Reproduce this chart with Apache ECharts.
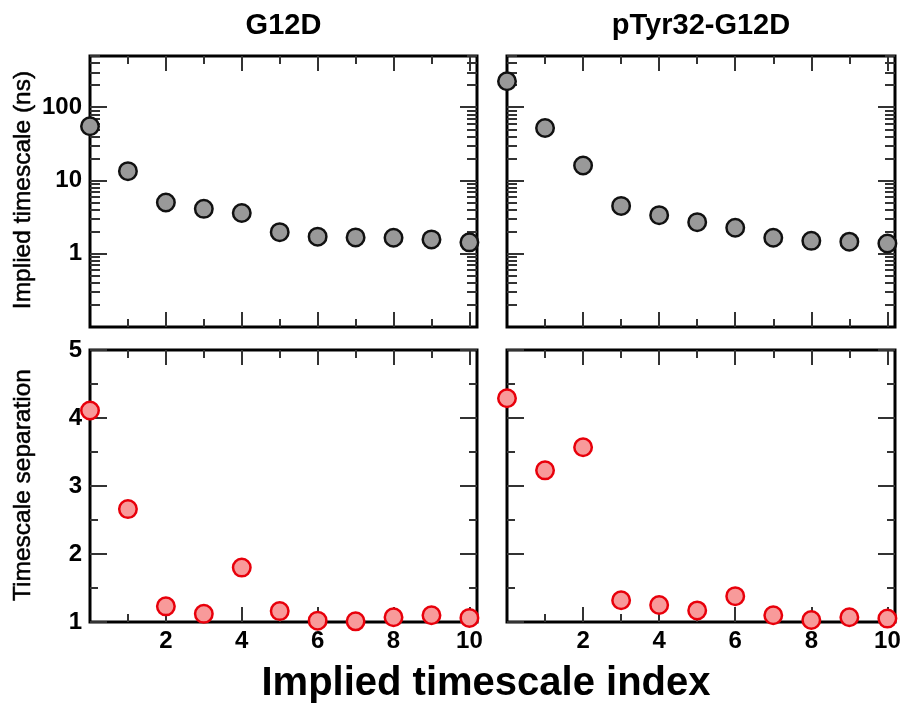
<!DOCTYPE html>
<html>
<head>
<meta charset="utf-8">
<script src="https://cdn.jsdelivr.net/npm/echarts@6/dist/echarts.min.js"></script>
<style>
html,body{margin:0;padding:0;background:#fff;}
#chart{width:902px;height:704px;}
</style>
</head>
<body>
<div id="chart"></div>
<script>
// ---- data ----
const indices = [0, 1, 2, 3, 4, 5, 6, 7, 8, 9, 10];
const g12dTimescale = [55, 13.4, 5.0, 4.1, 3.6, 1.97, 1.71, 1.67, 1.65, 1.57, 1.43];
const pTyrTimescale = [226, 52, 16.0, 4.5, 3.36, 2.70, 2.26, 1.65, 1.50, 1.46, 1.38];
const g12dSeparation = [4.11, 2.66, 1.23, 1.12, 1.80, 1.16, 1.02, 1.01, 1.07, 1.10, 1.06];
const pTyrSeparation = [4.29, 3.23, 3.57, 1.32, 1.25, 1.17, 1.38, 1.10, 1.03, 1.07, 1.05];
const panelTitles = ['G12D', 'pTyr32-G12D'];
const xMajorTicks = [2, 4, 6, 8, 10];
const xMinorTicks = [1, 3, 5, 7, 9];
const logMajorTicks = [1, 10, 100];
const logMinorTicks = [0.2, 0.3, 0.4, 0.5, 0.6, 0.7, 0.8, 0.9, 2, 3, 4, 5, 6, 7, 8, 9, 20, 30, 40, 50, 60, 70, 80, 90, 200, 300, 400, 500];
const sepMajorTicks = [1, 2, 3, 4, 5];
const sepMinorTicks = [1.5, 2.5, 3.5, 4.5];
const yTitles = ['Implied timescale (ns)', 'Timescale separation'];
const xTitle = 'Implied timescale index';

// ---- layout ----
const FONT = '"Liberation Sans", Arial, Helvetica, sans-serif';
const grids = [
  {left: 90, top: 56, width: 387, height: 271},
  {left: 507, top: 56, width: 388, height: 271},
  {left: 90, top: 350, width: 387, height: 272},
  {left: 507, top: 350, width: 388, height: 272}
];
const tickColor = '#333';
const labelStyle = {color: '#000', fontFamily: FONT, fontWeight: 'bold', fontSize: 24};

function tickAxis(base, pos, values, len, labels, labelMargin) {
  return Object.assign({}, base, {
    position: pos,
    axisLine: {show: false, onZero: false},
    splitLine: {show: false},
    axisTick: {show: true, inside: true, length: len, customValues: values,
      lineStyle: {color: tickColor, width: 2}},
    axisLabel: labels ? Object.assign({show: true, customValues: labels, margin: labelMargin}, labelStyle)
                      : {show: false}
  });
}

const xAxes = [], yAxes = [];
grids.forEach((g, gi) => {
  const bottomRow = gi >= 2;
  const leftCol = gi % 2 === 0;
  const xb = {type: 'value', gridIndex: gi, min: 0, max: 10.2};
  xAxes.push(tickAxis(xb, 'bottom', xMajorTicks, 15, bottomRow ? xMajorTicks : null, 7));
  xAxes.push(tickAxis(xb, 'bottom', xMinorTicks, 8, null));
  xAxes.push(tickAxis(xb, 'top', xMajorTicks, 15, null));
  xAxes.push(tickAxis(xb, 'top', xMinorTicks, 8, null));
  if (!bottomRow) {
    const yb = {type: 'log', logBase: 10, gridIndex: gi, min: 0.1, max: 500};
    yAxes.push(tickAxis(yb, 'left', logMajorTicks, 17, leftCol ? logMajorTicks : null, 8));
    yAxes.push(tickAxis(yb, 'left', logMinorTicks, 10, null));
    yAxes.push(tickAxis(yb, 'right', logMajorTicks, 17, null));
    yAxes.push(tickAxis(yb, 'right', logMinorTicks, 10, null));
  } else {
    const yb = {type: 'value', gridIndex: gi, min: 1, max: 5};
    yAxes.push(tickAxis(yb, 'left', sepMajorTicks, 17, leftCol ? sepMajorTicks : null, 8));
    yAxes.push(tickAxis(yb, 'left', sepMinorTicks, 8, null));
    yAxes.push(tickAxis(yb, 'right', sepMajorTicks, 17, null));
    yAxes.push(tickAxis(yb, 'right', sepMinorTicks, 8, null));
  }
});

const seriesValues = [g12dTimescale, pTyrTimescale, g12dSeparation, pTyrSeparation];
const series = seriesValues.map((vals, gi) => {
  const red = gi >= 2;
  return {
    type: 'scatter',
    xAxisIndex: gi * 4,
    yAxisIndex: gi * 4,
    symbol: 'circle',
    symbolSize: 17.5,
    clip: false,
    data: indices.map((x, i) => [x, vals[i]]),
    itemStyle: red
      ? {color: '#f89a9a', borderColor: '#e8000b', borderWidth: 2.5, opacity: 1}
      : {color: '#999999', borderColor: '#111', borderWidth: 2.5, opacity: 1},
    z: 5
  };
});

const graphic = [
  {type: 'text', x: 283.5, y: 26, style: {text: panelTitles[0], textAlign: 'center', textVerticalAlign: 'middle', font: 'bold 29px ' + FONT, fill: '#000'}},
  {type: 'text', x: 701, y: 26, style: {text: panelTitles[1], textAlign: 'center', textVerticalAlign: 'middle', font: 'bold 29px ' + FONT, fill: '#000'}},
  {type: 'text', x: 23, y: 190, rotation: Math.PI / 2, style: {text: yTitles[0], textAlign: 'center', textVerticalAlign: 'middle', font: '24.5px ' + FONT, fill: '#000', stroke: '#000', lineWidth: 0.5}},
  {type: 'text', x: 23, y: 485, rotation: Math.PI / 2, style: {text: yTitles[1], textAlign: 'center', textVerticalAlign: 'middle', font: '24.5px ' + FONT, fill: '#000', stroke: '#000', lineWidth: 0.5}},
  {type: 'text', x: 486, y: 684, style: {text: xTitle, textAlign: 'center', textVerticalAlign: 'middle', font: 'bold 40px ' + FONT, fill: '#000'}}
];

const chart = echarts.init(document.getElementById('chart'), null, {renderer: 'canvas'});
chart.setOption({
  animation: false,
  backgroundColor: '#fff',
  grid: grids.map(g => Object.assign({show: true, borderColor: '#000', borderWidth: 3, backgroundColor: 'transparent', containLabel: false, outerBoundsMode: 'none'}, g)),
  xAxis: xAxes,
  yAxis: yAxes,
  series: series,
  graphic: graphic
});
</script>
</body>
</html>
